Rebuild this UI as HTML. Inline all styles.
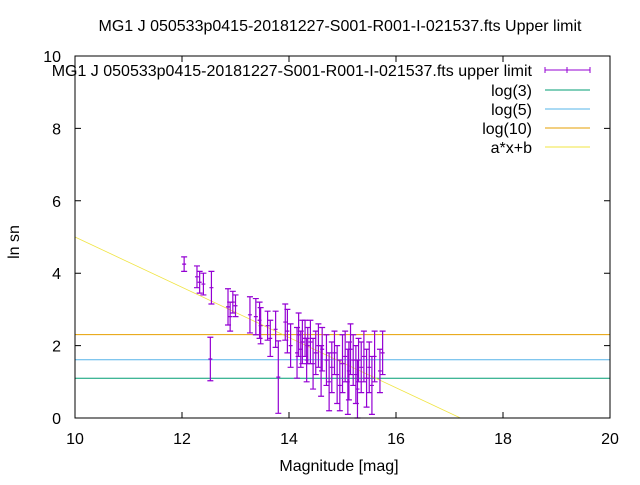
<!DOCTYPE html>
<html><head><meta charset="utf-8"><style>
body{margin:0;background:#fff}
svg text{font-family:"Liberation Sans",sans-serif;font-size:16px;fill:#000}
</style></head><body>
<svg width="640" height="480" viewBox="0 0 640 480">
<rect width="640" height="480" fill="#fff"/>
<text x="340" y="31" text-anchor="middle">MG1 J 050533p0415-20181227-S001-R001-I-021537.fts Upper limit</text>
<g id="axes"></g>
<g id="marks"></g>
<rect x="75" y="56" width="535" height="362" fill="none" stroke="#000"/>
<text x="339" y="471" text-anchor="middle">Magnitude [mag]</text>
<text transform="translate(19,242) rotate(-90)" text-anchor="middle">ln sn</text>
<g id="legend"></g>
</svg>
<script>
const xTicks=[10,12,14,16,18,20];
const yTicks=[0,2,4,6,8,10];
const mags=[12.04,12.28,12.33,12.4,12.55,12.53,12.86,12.9,12.95,13.0,13.27,13.38,13.45,13.47,13.6,13.65,13.75,13.93,13.97,13.8,14.03,14.15,14.18,14.22,14.25,14.3,14.33,14.35,14.4,14.45,14.5,14.55,14.6,14.62,14.7,14.75,14.8,14.85,14.9,14.95,15.0,15.05,15.1,15.12,15.15,15.2,15.25,15.28,15.3,15.35,15.4,15.45,15.5,15.55,15.6,15.7,15.75];
const lnsn=[4.25,3.9,3.75,3.7,3.6,1.63,3.07,2.8,3.2,3.1,2.85,2.8,2.7,2.55,2.55,2.2,2.45,2.65,2.4,1.13,2.0,1.8,2.3,1.9,2.1,2.2,1.6,2.0,2.1,1.5,1.8,2.0,1.3,1.9,1.6,1.0,1.4,1.8,1.2,0.9,1.5,1.7,1.0,1.3,1.9,1.6,1.2,0.8,1.6,1.4,1.7,1.1,1.4,0.9,1.7,1.3,1.8];
const errs=[0.2,0.3,0.3,0.3,0.45,0.6,0.5,0.4,0.3,0.3,0.5,0.5,0.5,0.5,0.4,0.5,0.5,0.5,0.6,1.0,0.6,0.7,0.6,0.5,0.6,0.5,0.6,0.5,0.6,0.7,0.6,0.6,0.7,0.6,0.7,0.8,0.7,0.6,0.8,0.7,0.8,0.7,0.9,0.8,0.7,0.7,0.8,0.8,0.6,0.7,0.7,0.8,0.7,0.8,0.7,0.6,0.6];
const fitA=-0.694, fitB=11.94;
const hLines=[Math.log(3),Math.log(5),Math.log(10)];
const hColors=['#009e73','#56b4e9','#e69f00'];
const NS='http://www.w3.org/2000/svg';
const X=m=>75+53.5*(m-10), Y=v=>418-36.2*v;
function mk(t,a,p){const e=document.createElementNS(NS,t);for(const k in a)e.setAttribute(k,a[k]);p.appendChild(e);return e;}
const ax=document.getElementById('axes'), mg=document.getElementById('marks'), lg=document.getElementById('legend');
xTicks.forEach(t=>{const x=X(t);
 const l=mk('path',{d:`M${x} 418v-6M${x} 56v6`,stroke:'#000'},ax);
 
 
 const tx=mk('text',{x:x,y:444,'text-anchor':'middle'},ax);tx.textContent=t;
 
 });
yTicks.forEach(t=>{const y=Y(t);
 const l=mk('path',{d:`M75 ${y}h6M610 ${y}h-6`,stroke:'#000'},ax);
 
 
 const tx=mk('text',{x:61,y:y+6,'text-anchor':'end'},ax);tx.textContent=t;
 
 });
hLines.forEach((v,i)=>{const l=mk('line',{x1:75,x2:610,y1:Y(v),y2:Y(v),stroke:hColors[i]},mg);
 
 });
const x0=10,x1=(0-fitB)/fitA;
const fl=mk('line',{x1:X(x0),y1:Y(fitA*x0+fitB),x2:X(x1),y2:Y(0),stroke:'#f0e442','stroke-width':0.8},mg);


mags.forEach((m,i)=>{const x=X(m),y=Y(lnsn[i]),t=Y(lnsn[i]+errs[i]),b=Y(lnsn[i]-errs[i]);
 const p=mk('path',{d:`M${x} ${t}V${b}M${x-3} ${t}h6M${x-3} ${b}h6M${x-2} ${y}h4`,stroke:'#9400d3','stroke-width':1.2,fill:'none'},mg);
 
 });
const leg=[['MG1 J 050533p0415-20181227-S001-R001-I-021537.fts upper limit','#9400d3'],['log(3)','#009e73'],['log(5)','#56b4e9'],['log(10)','#e69f00'],['a*x+b','#f0e442']];
const ly=[70,90,109,128,147];
leg.forEach((e,i)=>{const tx=mk('text',{x:532,y:ly[i]+6,'text-anchor':'end'},lg);tx.textContent=e[0];
 
 
 const l=mk('path',{d:i==0?`M545 ${ly[i]}h45M545 ${ly[i]-3}v6M590 ${ly[i]-3}v6M567 ${ly[i]-3}v6`:`M545 ${ly[i]}h45`,stroke:e[1],fill:'none'},lg);
 
 });
</script>
</body></html>
